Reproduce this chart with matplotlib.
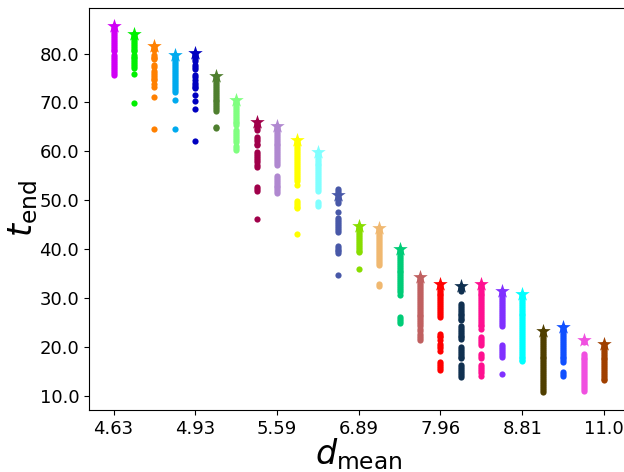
import matplotlib
matplotlib.use("Agg")
import matplotlib.pyplot as plt
from matplotlib.ticker import FormatStrFormatter

# d_mean groups (one column per group); only every fourth is labelled
d_mean_labels = ["4.63", "4.93", "5.59", "6.89", "7.96", "8.81", "11.0"]
label_every = 4

colors = [
    "#d000f5", "#00f000", "#ff8000", "#00aaee", "#0000c0",
    "#4f7f2f", "#80ff80", "#a0004a", "#b088d0", "#ffff00",
    "#80ffff", "#4858a8", "#88dd00", "#f0b870", "#00cc77",
    "#c06060", "#ff0000", "#103050", "#ff1090", "#8030ff",
    "#00ffff", "#503f00", "#1050ff", "#f050e0", "#a04000",
]

# t_end samples per group
t_end = [
    [85.6, 85.2, 84.8, 84.4, 84.0, 83.6, 83.2, 82.8, 82.4, 82.0, 81.6, 81.2, 80.8, 80.5,
     79.7, 79.3, 78.9, 78.5, 78.1, 77.7, 77.3, 76.9, 76.5, 76.1, 75.7],
    [84.0, 83.6, 83.2, 82.8, 82.4, 82.0, 81.6, 81.2, 80.8, 80.5, 79.8, 79.4, 79.0, 78.6,
     78.2, 77.8, 77.4, 77.1, 75.9, 69.9],
    [81.5, 81.1, 80.8, 79.8, 79.4, 79.0, 78.8, 77.6, 77.2, 76.5, 76.1, 75.7, 75.3, 74.9,
     74.5, 73.7, 73.2, 71.2, 64.6],
    [79.8, 79.4, 79.0, 78.6, 78.2, 77.8, 77.4, 77.0, 76.6, 76.2, 75.8, 75.4, 75.0, 74.6,
     74.2, 73.8, 73.4, 73.0, 72.6, 72.2, 70.6, 64.5],
    [80.1, 79.7, 79.3, 78.9, 78.4, 77.6, 77.2, 76.8, 75.7, 75.2, 74.7, 74.0, 73.6, 73.2,
     72.9, 71.6, 70.4, 68.6, 62.1],
    [75.4, 75.0, 74.6, 74.2, 73.8, 73.4, 73.0, 72.6, 72.2, 71.8, 71.4, 71.0, 70.6, 70.2,
     69.8, 69.4, 69.0, 68.6, 68.2, 64.9, 64.7],
    [70.5, 70.1, 69.7, 69.3, 68.9, 68.5, 68.1, 67.7, 67.3, 66.9, 66.5, 66.1, 65.7, 65.3,
     64.3, 63.9, 63.5, 63.1, 62.7, 62.3, 61.9, 61.0, 60.6, 60.2],
    [65.9, 65.5, 65.1, 64.7, 64.3, 62.9, 62.5, 62.1, 61.6, 61.2, 59.9, 59.5, 59.1, 58.6,
     58.2, 57.8, 57.2, 56.8, 52.7, 52.2, 51.8, 46.1],
    [65.2, 64.8, 64.4, 64.0, 63.6, 63.2, 62.8, 62.4, 62.0, 61.6, 61.2, 60.8, 60.4, 60.0,
     59.6, 59.2, 58.8, 58.4, 58.0, 57.6, 57.2, 55.0, 54.6, 54.2, 53.8, 53.4, 53.0, 52.6,
     52.2, 51.8, 51.4],
    [62.4, 62.0, 61.6, 61.2, 60.8, 60.4, 60.0, 59.6, 59.2, 58.8, 58.4, 58.0, 57.6, 57.2,
     56.8, 56.4, 56.0, 55.6, 55.2, 54.8, 54.4, 54.0, 53.1, 49.9, 49.5, 49.1, 48.7, 48.3,
     43.1],
    [59.9, 59.5, 59.1, 58.7, 58.3, 57.9, 57.5, 57.1, 56.7, 56.3, 55.9, 55.5, 55.1, 54.7,
     54.3, 53.9, 53.5, 53.1, 52.7, 52.3, 51.9, 49.6, 49.2, 48.8],
    [52.2, 51.8, 51.4, 51.0, 50.6, 50.2, 49.8, 49.5, 47.5, 46.3, 45.9, 45.5, 45.1, 44.7,
     44.3, 43.9, 43.5, 40.7, 40.3, 39.9, 39.5, 39.1, 34.6],
    [44.8, 44.4, 44.0, 43.6, 43.2, 42.8, 42.4, 42.0, 41.6, 41.2, 40.8, 40.4, 40.0, 39.6,
     39.3, 35.9],
    [44.4, 44.0, 43.6, 43.2, 42.8, 42.4, 42.0, 41.6, 41.2, 40.8, 40.4, 40.0, 39.6, 39.2,
     38.8, 38.4, 38.0, 37.6, 37.2, 36.8, 32.9, 32.4],
    [40.0, 39.6, 39.2, 38.8, 38.4, 38.0, 37.6, 37.2, 36.8, 36.4, 36.0, 35.6, 35.2, 34.8,
     34.4, 34.0, 33.6, 33.2, 32.8, 32.4, 32.0, 31.6, 31.2, 30.5, 26.1, 25.7, 25.3, 24.9],
    [34.2, 33.8, 33.4, 33.0, 32.6, 32.2, 31.8, 31.4, 31.0, 30.6, 30.2, 29.8, 29.4, 29.0,
     28.6, 28.2, 27.8, 27.4, 27.0, 26.6, 26.2, 25.8, 25.4, 25.0, 24.6, 24.3, 23.7, 23.2,
     22.7, 22.2, 21.7, 21.3],
    [32.9, 32.5, 32.1, 31.7, 31.3, 30.9, 30.5, 30.1, 29.7, 29.3, 28.9, 28.5, 28.1, 27.7,
     27.3, 26.9, 26.5, 26.1, 22.7, 22.3, 21.9, 21.3, 20.6, 20.2, 19.7, 19.2, 16.9, 16.5,
     16.0, 15.6, 15.2],
    [32.5, 32.1, 31.8, 31.5, 28.8, 28.4, 28.0, 27.6, 27.2, 26.8, 26.4, 26.0, 25.6, 25.4,
     24.3, 23.9, 23.5, 23.1, 22.7, 22.3, 21.9, 21.6, 20.0, 19.6, 19.2, 18.8, 18.4, 18.0,
     17.6, 16.2, 15.8, 15.4, 15.0, 14.6, 14.2, 13.8],
    [32.9, 32.5, 32.1, 31.7, 31.3, 30.9, 30.5, 30.1, 29.7, 29.3, 28.9, 28.5, 28.1, 27.7,
     27.3, 26.9, 26.5, 26.1, 25.7, 25.3, 24.9, 24.5, 24.3, 23.7, 22.0, 21.6, 21.2, 20.8,
     20.3, 18.6, 18.1, 17.6, 16.2, 15.8, 15.4, 15.0, 14.6, 14.1],
    [31.5, 31.1, 30.7, 30.3, 29.9, 29.5, 29.1, 28.7, 28.3, 27.9, 27.5, 27.1, 26.7, 26.3,
     25.9, 25.5, 25.1, 24.7, 24.3, 20.3, 19.9, 19.5, 19.1, 18.7, 18.3, 17.9, 14.5],
    [30.8, 30.4, 30.0, 29.6, 29.2, 28.8, 28.4, 28.0, 27.6, 27.2, 26.8, 26.4, 26.0, 25.6,
     25.2, 24.8, 24.4, 24.0, 23.6, 23.2, 22.8, 22.4, 22.0, 21.6, 21.2, 20.8, 20.4, 20.0,
     19.6, 19.2, 18.8, 18.4, 18.0, 17.6, 17.2, 17.0],
    [23.2, 22.8, 22.4, 22.0, 21.6, 21.2, 20.8, 20.4, 20.0, 19.6, 19.2, 18.8, 18.4, 18.0,
     17.6, 17.2, 16.8, 16.4, 16.0, 15.6, 15.2, 14.8, 14.4, 14.0, 13.6, 13.2, 12.8, 12.4,
     12.0, 11.6, 11.2, 10.8],
    [24.0, 23.6, 23.2, 22.8, 22.4, 22.0, 21.6, 21.2, 20.8, 20.4, 20.0, 19.6, 19.2, 18.8,
     18.4, 18.0, 17.6, 17.2, 16.9, 14.8, 14.4, 14.1],
    [21.3, 20.9, 18.6, 18.2, 17.8, 17.4, 17.0, 16.6, 16.2, 15.8, 15.4, 15.0, 14.6, 14.2,
     13.8, 13.4, 13.0, 12.6, 12.2, 11.8, 11.4, 11.0],
    [20.6, 20.2, 19.8, 19.4, 19.0, 18.6, 18.2, 17.8, 17.4, 17.0, 16.6, 16.2, 15.8, 15.4,
     15.0, 14.6, 14.2, 13.8, 13.4, 13.1],
]

# highlighted t_end per group (star)
t_end_star = [85.6, 84.0, 81.5, 79.8, 80.1, 75.4, 70.5, 65.9, 65.2, 62.4,
              59.9, 51.0, 44.8, 44.4, 40.0, 34.2, 32.9, 32.5, 32.9, 31.5,
              30.8, 23.2, 24.0, 21.3, 20.6]

fig = plt.figure(figsize=(6.24, 4.72), dpi=100)
ax = fig.add_axes([0.1426, 0.1314, 0.8646, 0.8517])

for i, (vals, c) in enumerate(zip(t_end, colors)):
    ax.scatter([i] * len(vals), vals, s=20, color=c, linewidths=0, zorder=2)
    ax.scatter([i], [t_end_star[i]], s=120, marker="*", color=c, linewidths=0, zorder=3)

tick_pos = list(range(0, len(t_end), label_every))
ax.set_xticks(tick_pos)
ax.set_xticklabels(d_mean_labels)
ax.yaxis.set_major_formatter(FormatStrFormatter("%.1f"))
ax.tick_params(labelsize=13)
ax.set_xlabel(r"$d_{\mathrm{mean}}$", fontsize=24, labelpad=-1)
ax.set_ylabel(r"$t_{\mathrm{end}}$", fontsize=24, labelpad=0)

fig.savefig("out.png", dpi=100)
